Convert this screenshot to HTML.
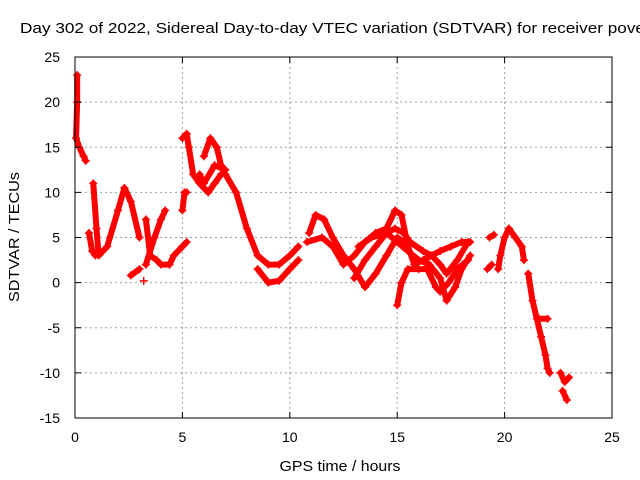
<!DOCTYPE html>
<html><head><meta charset="utf-8"><style>
body{margin:0;background:#fff}
svg{display:block;font-family:"Liberation Sans",sans-serif}
</style></head><body>
<svg id="chart" width="640" height="480" viewBox="0 0 640 480">
<rect width="640" height="480" fill="#fff"/>
<g id="grid"></g><g id="series"></g><g id="axes"></g>
<text x="20" y="33" font-size="15" textLength="625" lengthAdjust="spacingAndGlyphs">Day 302 of 2022, Sidereal Day-to-day VTEC variation (SDTVAR) for receiver pove</text>
<text x="340" y="471" font-size="15" text-anchor="middle" textLength="121" lengthAdjust="spacingAndGlyphs">GPS time / hours</text>
<text transform="translate(19,237) rotate(-90)" font-size="15" text-anchor="middle" textLength="130" lengthAdjust="spacingAndGlyphs">SDTVAR / TECUs</text>
</svg>
<script>
const xTicks=[0,5,10,15,20,25];
const yTicks=[-15,-10,-5,0,5,10,15,20,25];
const sA=[[0.1,23],[0.1,20],[0.05,16],[0.2,15],[0.4,14],[0.5,13.5]];
const sB=[[0.85,11],[1.0,6],[1.1,3],[1.5,4],[2.0,8],[2.3,10.5],[2.6,9],[3.0,5]];
const sB2=[[0.65,5.5],[0.8,3.5],[0.95,3]];
const sC=[[2.6,0.8],[3.0,1.5]];
const sC2=[[3.2,0.2]];
const sD=[[3.3,7],[3.5,3],[3.8,2.5],[4.0,2],[4.4,2],[4.6,3],[5.0,4],[5.2,4.5]];
const sD2=[[3.3,2],[3.7,5],[4.0,7],[4.2,8]];
const sE=[[5.0,16],[5.2,16.5],[5.3,15],[5.5,12],[5.8,11],[6.2,10],[6.5,11],[6.8,12]];
const sE2=[[5.0,8],[5.1,10],[5.2,10]];
const sE3=[[6.0,14],[6.3,16],[6.6,15],[6.8,13],[7.0,12],[7.5,10],[8.0,6],[8.5,3],[9.0,2],[9.5,2],[10.0,3],[10.4,4]];
const sE4=[[8.5,1.5],[9.0,0],[9.5,0.2],[10.0,1.5],[10.4,2.5]];
const sE5=[[5.8,12],[6.0,11],[6.5,13],[7.0,12.5]];
const sF1=[[10.9,5.5],[11.2,7.5],[11.6,7],[12,5],[12.5,3],[13,1.5],[13.5,-0.5],[14,1],[14.5,3],[15,5],[15.3,4.5]];
const sF2=[[10.8,4.5],[11.5,5],[12,4],[12.5,2],[13,3],[13.5,4.5],[14,5.5],[14.5,6],[14.9,8],[15.2,7.5],[15.5,4],[15.8,2],[16.2,2.5],[16.6,3],[17,2],[17.3,1],[17.8,2.5],[18.3,4.5]];
const sF3=[[13,0.5],[13.5,2.5],[14,4],[14.5,5.5],[14.9,6],[15.3,5.5],[15.6,4.5],[16.2,3.5],[16.6,3],[17,3.5],[17.5,4],[18,4.5],[18.4,4.5]];
const sF4=[[13.2,4],[13.8,5],[14.5,5.5],[15,4.5],[15.5,3.5],[16,2.5],[16.5,2],[17,0.5],[17.3,-2],[17.7,-0.5],[18,1.5],[18.4,3]];
const sF5=[[15,-2.5],[15.2,0],[15.5,1.5],[16,1.5],[16.4,1.5],[16.8,-0.5],[17,-1],[17.4,0],[17.8,1.5],[18.3,2.5]];
const sG=[[19.2,1.5],[19.4,2]];
const sG2=[[19.3,5],[19.5,5.3]];
const sG3=[[19.7,1.5],[19.8,3],[20,5],[20.2,6],[20.5,5],[20.8,4],[20.9,2.5]];
const sH=[[21.1,1],[21.3,-2],[21.5,-4],[21.7,-6],[21.9,-8],[22.0,-9.5],[22.1,-10]];
const sH2=[[21.6,-4],[22.0,-4]];
const sI=[[22.6,-10],[22.8,-11],[23,-10.5]];
const sI2=[[22.7,-12],[22.9,-13]];
const allSeries=[sA,sB,sB2,sC,sC2,sD,sD2,sE,sE2,sE3,sE4,sE5,sF1,sF2,sF3,sF4,sF5,sG,sG2,sG3,sH,sH2,sI,sI2];

const L=75,R=612,T=57,B=418,xmin=0,xmax=25,ymin=-15,ymax=25;
const xs=v=>L+(v-xmin)/(xmax-xmin)*(R-L);
const ys=v=>B-(v-ymin)/(ymax-ymin)*(B-T);
const NS='http://www.w3.org/2000/svg';
function mk(tag,attrs,parent){const e=document.createElementNS(NS,tag);for(const k in attrs)e.setAttribute(k,attrs[k]);parent.appendChild(e);return e;}
const grid=document.getElementById('grid'),axes=document.getElementById('axes'),ser=document.getElementById('series');
xTicks.forEach(t=>{
  const x=xs(t);
  if(t>xmin&&t<xmax){const g=mk('line',{x1:x,x2:x,y1:T,y2:B,stroke:'#a0a0a0','stroke-dasharray':'2,3'},grid);
  
  }
  mk('line',{x1:x,x2:x,y1:B,y2:B-6,stroke:'#000'},axes);
  mk('line',{x1:x,x2:x,y1:T,y2:T+6,stroke:'#000'},axes);
  const tx=mk('text',{x:x,y:B+24,'font-size':14,'text-anchor':'middle'},axes);tx.textContent=t;
  
  
});
yTicks.forEach(t=>{
  const y=ys(t);
  if(t>ymin&&t<ymax){const g=mk('line',{x1:L,x2:R,y1:y,y2:y,stroke:'#a0a0a0','stroke-dasharray':'2,3'},grid);
  
  }
  mk('line',{x1:L,x2:L+6,y1:y,y2:y,stroke:'#000'},axes);
  mk('line',{x1:R,x2:R-6,y1:y,y2:y,stroke:'#000'},axes);
  const tx=mk('text',{x:L-15,y:y+5,'font-size':14,'text-anchor':'end'},axes);tx.textContent=t;
  
  
});
const fr=mk('rect',{x:L,y:T,width:R-L,height:B-T,fill:'none',stroke:'#000'},axes);


allSeries.forEach((s,i)=>{
  const pl=mk('polyline',{points:s.map(p=>xs(p[0])+','+ys(p[1])).join(' '),fill:'none',stroke:'#f00','stroke-width':6,'stroke-linejoin':'round','stroke-linecap':'round'},ser);
  
  
  s.forEach(p=>{
    const x=xs(p[0]),y=ys(p[1]);
    const m=mk('path',{d:`M${x-4},${y}H${x+4}M${x},${y-4}V${y+4}`,stroke:'#f00','stroke-width':1.5},ser);
    
    
  });
});
</script>
</body></html>
